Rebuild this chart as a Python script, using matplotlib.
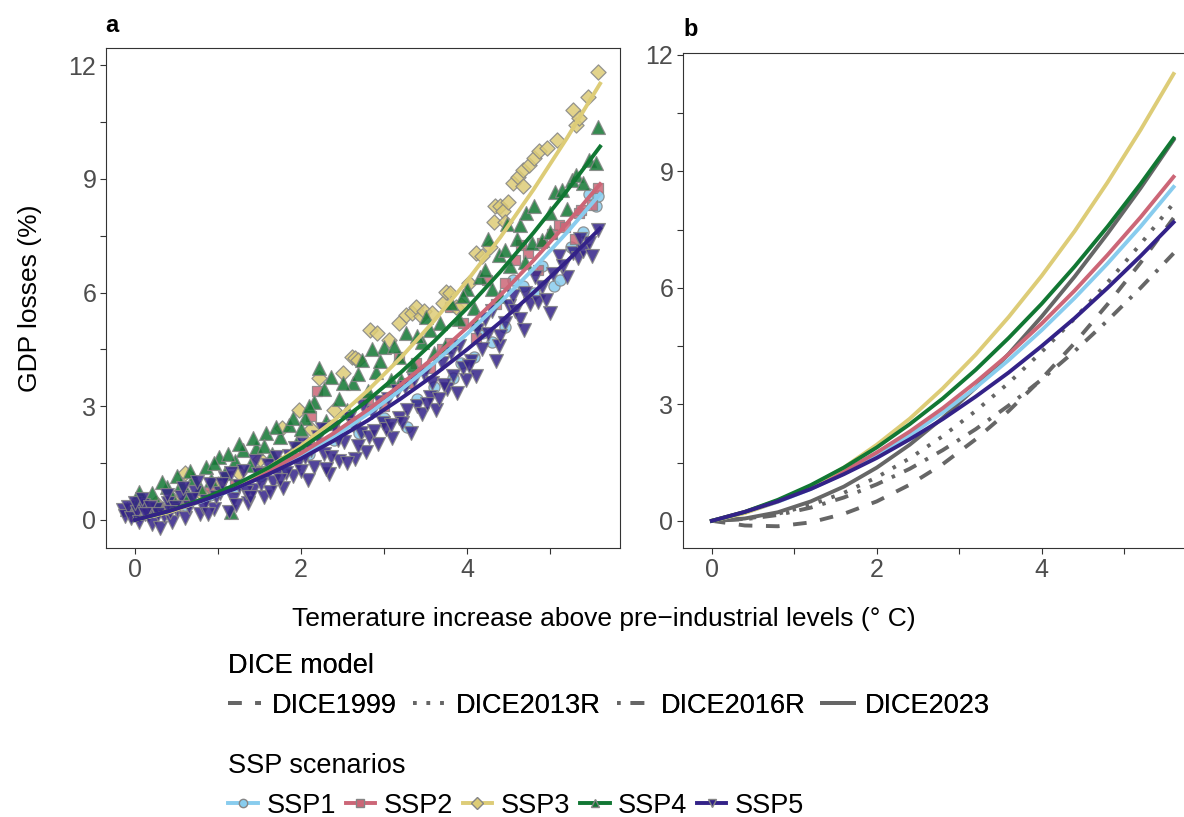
import matplotlib
matplotlib.use("Agg")
import matplotlib.pyplot as plt
from matplotlib.lines import Line2D

plt.rcParams['font.family'] = ['Liberation Sans', 'DejaVu Sans']

# === DATA ===
ssp_names = ['SSP1', 'SSP2', 'SSP3', 'SSP4', 'SSP5']
ssp_colors = ['#88CCEE', '#CC6677', '#DDCC77', '#117733', '#332288']
ssp_markers = ['o', 's', 'D', '^', 'v']
ssp_sizes = [65, 60, 60, 100, 100]

# fitted damage curves (same in both panels), read at these temperatures
temp_grid = [0.0, 0.4, 0.8, 1.2, 1.6, 2.0, 2.4, 2.8, 3.2, 3.6, 4.0, 4.4, 4.8, 5.2, 5.6]
ssp1_fit = [0.0, 0.21, 0.49, 0.82, 1.22, 1.68, 2.20, 2.79, 3.43, 4.14, 4.91, 5.74, 6.63, 7.58, 8.60]
ssp2_fit = [0.0, 0.23, 0.52, 0.87, 1.28, 1.76, 2.30, 2.90, 3.57, 4.29, 5.08, 5.93, 6.85, 7.82, 8.86]
ssp3_fit = [0.0, 0.20, 0.50, 0.89, 1.37, 1.96, 2.63, 3.41, 4.28, 5.25, 6.31, 7.46, 8.72, 10.07, 11.51]
ssp4_fit = [0.0, 0.23, 0.54, 0.92, 1.37, 1.89, 2.49, 3.15, 3.89, 4.71, 5.59, 6.55, 7.58, 8.68, 9.85]
ssp5_fit = [0.0, 0.23, 0.50, 0.82, 1.20, 1.62, 2.10, 2.62, 3.20, 3.82, 4.50, 5.22, 6.00, 6.82, 7.69]
ssp_fits = [ssp1_fit, ssp2_fit, ssp3_fit, ssp4_fit, ssp5_fit]

dice_names = ['DICE1999', 'DICE2013R', 'DICE2016R', 'DICE2023']
dice_styles = [(0, (3.5, 3.5)), (0, (0.9, 2.6)), (0, (0.9, 2.6, 3.5, 2.6)), '-']
dice1999 = [0.0, -0.12, -0.14, -0.04, 0.18, 0.50, 0.93, 1.46, 2.10, 2.83, 3.66, 4.58, 5.58, 6.65, 7.80]
dice2013r = [0.0, 0.05, 0.18, 0.41, 0.72, 1.12, 1.61, 2.18, 2.83, 3.55, 4.35, 5.21, 6.14, 7.13, 8.18]
dice2016r = [0.0, 0.04, 0.15, 0.34, 0.60, 0.94, 1.34, 1.82, 2.36, 2.97, 3.64, 4.37, 5.16, 6.00, 6.89]
dice2023 = [0.0, 0.06, 0.22, 0.50, 0.88, 1.37, 1.96, 2.65, 3.43, 4.30, 5.26, 6.29, 7.40, 8.57, 9.81]
dice_fits = [dice1999, dice2013r, dice2016r, dice2023]

# scatter points, panel a
ssp1_t = [0.00, 0.30, 0.60, 0.90, 1.20, 1.50, 1.80, 2.10, 2.40, 2.70, 3.00, 3.28, 3.40, 3.60, 3.83, 3.92,
          4.08, 4.18, 4.30, 4.45, 4.55, 4.67, 4.80, 4.90, 5.04, 5.12, 5.25, 5.40, 5.47, 5.55, 5.57]
ssp1_v = [0.15, 0.25, 0.40, 0.65, 0.85, 1.15, 1.40, 1.75, 2.10, 2.30, 2.70, 2.46, 3.20, 3.50, 3.74, 4.13,
          4.31, 4.93, 4.70, 5.10, 6.33, 6.16, 6.00, 6.70, 6.16, 6.33, 7.20, 7.60, 8.60, 8.27, 8.55]

ssp2_t = [0.00, 0.30, 0.60, 0.90, 1.20, 1.50, 1.80, 2.10, 2.19, 2.12, 2.40, 2.65, 2.80, 3.00, 3.18, 3.30,
          3.38, 3.55, 3.70, 3.79, 3.79, 3.95, 4.10, 4.24, 4.35, 4.45, 4.57, 4.65, 4.73, 4.85, 4.90, 5.02,
          5.10, 5.18, 5.30, 5.35, 5.37, 5.50, 5.57]
ssp2_v = [0.10, 0.30, 0.45, 0.75, 0.95, 1.30, 1.55, 2.00, 3.39, 2.73, 2.50, 2.60, 3.20, 3.00, 4.31, 3.60,
          4.13, 4.00, 4.50, 5.63, 4.66, 5.20, 4.80, 6.33, 5.70, 6.25, 6.86, 7.26, 7.04, 6.60, 7.30, 7.55,
          7.78, 7.74, 7.40, 8.09, 8.18, 8.30, 8.75]

ssp3_t = [0.00, 0.25, 0.45, 0.60, 0.80, 1.00, 1.25, 1.50, 1.77, 1.97, 2.12, 2.22, 2.40, 2.50, 2.61, 2.65,
          2.69, 2.83, 2.91, 3.06, 3.18, 3.26, 3.34, 3.38, 3.44, 3.48, 3.57, 3.71, 3.75, 3.79, 3.87, 3.93,
          4.02, 4.10, 4.18, 4.28, 4.32, 4.34, 4.40, 4.43, 4.45, 4.49, 4.55, 4.61, 4.67, 4.67, 4.75, 4.81,
          4.87, 4.96, 5.08, 5.28, 5.31, 5.35, 5.45, 5.57]
ssp3_v = [0.30, 0.45, 0.55, 1.23, 0.70, 0.95, 1.25, 1.60, 2.42, 2.90, 2.40, 3.74, 2.90, 3.87, 4.31, 4.27,
          4.22, 5.01, 4.93, 4.75, 5.19, 5.41, 5.45, 5.63, 5.37, 5.50, 5.45, 5.72, 6.02, 5.98, 5.63, 5.67,
          6.24, 7.04, 6.95, 7.21, 7.87, 8.27, 8.27, 8.14, 7.87, 8.40, 8.88, 9.06, 9.23, 8.80, 9.37, 9.54,
          9.72, 9.81, 10.03, 10.82, 10.42, 10.60, 11.17, 11.83]

ssp4_t = [-0.10, 0.00, 0.10, 0.20, 0.28, 0.38, 0.45, 0.55, 0.62, 0.70, 0.78, 0.85, 0.92, 1.01, 1.08, 1.15,
          1.20, 1.30, 1.38, 1.46, 1.58, 1.65, 1.75, 1.85, 1.95, 2.05, 2.15, 2.22, 2.30, 2.36, 2.45, 2.55,
          2.62, 2.73, 2.80, 2.90, 3.00, 3.08, 3.18, 3.20, 3.26, 3.35, 3.45, 3.55, 3.60, 3.67, 3.73, 3.81,
          3.90, 4.00, 4.08, 4.10, 4.15, 4.22, 4.30, 4.38, 4.40, 4.45, 4.52, 4.60, 4.63, 4.70, 4.71, 4.78,
          4.81, 4.90, 5.00, 5.00, 5.06, 5.14, 5.20, 5.26, 5.31, 5.40, 5.47, 5.55, 5.57,
          0.05, 0.32, 0.50, 0.66, 0.95, 1.12, 1.25, 1.42, 1.55, 1.70, 1.90, 2.00, 2.10, 2.28, 2.50, 2.68,
          2.85, 2.95, 3.12, 3.40, 3.50, 3.95, 4.25, 4.48]
ssp4_v = [0.30, 0.45, 0.55, 0.70, 0.40, 0.88, 0.60, 0.95, 0.70, 1.10, 0.85, 1.40, 1.05, 1.67, 1.25, 0.22,
          1.55, 1.85, 1.45, 1.90, 2.29, 1.75, 2.20, 2.50, 2.05, 2.70, 3.10, 4.00, 2.60, 3.78, 3.20, 2.90,
          3.60, 4.22, 3.40, 3.90, 4.55, 3.70, 4.30, 3.70, 4.93, 4.10, 4.70, 5.00, 4.40, 5.19, 4.60, 5.72,
          5.30, 6.10, 5.60, 5.20, 6.40, 6.60, 6.10, 7.00, 5.90, 7.12, 6.70, 7.40, 7.78, 6.80, 8.09, 7.30,
          8.27, 7.39, 8.10, 7.60, 8.66, 8.71, 8.20, 8.97, 9.10, 8.90, 9.50, 9.41, 10.36,
          0.75, 1.00, 1.15, 1.30, 1.50, 1.75, 2.00, 2.15, 1.95, 2.45, 2.70, 2.40, 3.00, 3.45, 3.60, 3.85,
          4.50, 4.20, 4.60, 4.85, 5.35, 5.90, 7.40, 7.80]

ssp5_t = [-0.15, -0.12, -0.08, -0.05, 0.02, 0.05, 0.10, 0.15, 0.20, 0.25, 0.30, 0.35, 0.40, 0.45, 0.50, 0.55,
          0.60, 0.65, 0.72, 0.78, 0.85, 0.90, 0.95, 1.02, 1.08, 1.13, 1.18, 1.25, 1.30, 1.36, 1.42, 1.48,
          1.55, 1.60, 1.66, 1.72, 1.78, 1.85, 1.90, 1.96, 2.02, 2.08, 2.15, 2.20, 2.28, 2.33, 2.40, 2.46,
          2.52, 2.58, 2.65, 2.72, 2.78, 2.85, 2.92, 2.98, 3.05, 3.10, 3.18, 3.25, 3.32, 3.40, 3.48, 3.55,
          3.62, 3.70, 3.76, 3.83, 3.90, 3.98, 4.05, 4.12, 4.18, 4.25, 4.30, 4.38, 4.45, 4.50, 4.58, 4.63,
          4.70, 4.76, 4.85, 4.90, 5.00, 5.03, 5.10, 5.20, 5.28, 5.33, 5.40, 5.47, 5.57,
          0.00, 0.08, 0.18, 0.28, 0.38, 0.48, 0.58, 0.68, 0.75, 0.82, 0.98, 1.05, 1.15, 1.22, 1.33, 1.45,
          1.52, 1.62, 1.70, 1.82, 1.93, 2.00, 2.12, 2.25, 2.36, 2.44, 2.55, 2.62, 2.75, 2.82, 2.95, 3.02,
          3.15, 3.22, 3.36, 3.45, 3.58, 3.66, 3.80, 3.95, 4.10, 4.22, 4.35, 4.55, 4.68, 4.82, 4.95, 5.15,
          5.36, 5.50,
          0.12, 0.42, 0.88, 1.38, 1.75, 2.05, 2.30, 2.68, 2.88, 3.08, 3.28, 3.52, 3.72, 3.88, 4.02, 4.40]
ssp5_v = [0.25, 0.10, 0.35, 0.05, 0.20, -0.05, 0.40, 0.12, -0.10, 0.30, -0.20, 0.10, 0.45, -0.05, 0.25, 0.60,
          0.05, 0.35, 0.75, 0.15, 0.50, 0.95, 0.30, 0.70, 1.10, 0.20, 0.55, 0.90, 1.30, 0.45, 0.80, 1.20,
          0.60, 1.45, 1.00, 1.30, 0.85, 1.70, 1.15, 1.50, 2.00, 1.05, 1.40, 2.20, 1.75, 1.20, 2.45, 1.55,
          2.05, 2.70, 1.60, 2.30, 1.80, 2.85, 2.00, 2.55, 3.20, 2.15, 2.70, 3.50, 2.30, 3.00, 3.85, 3.25,
          2.90, 4.15, 3.45, 3.80, 4.60, 3.70, 4.20, 5.00, 4.50, 4.90, 5.50, 4.60, 5.20, 5.65, 5.50, 5.30,
          6.00, 5.70, 5.75, 6.15, 5.45, 6.50, 6.95, 6.40, 7.05, 6.90, 7.10, 7.30, 7.65,
          0.45, 0.55, 0.35, 0.15, 0.65, 0.35, 0.85, 0.55, 1.00, 0.35, 0.60, 0.95, 1.25, 0.40, 0.75, 1.55,
          0.95, 0.75, 1.65, 1.25, 1.90, 1.30, 1.85, 2.40, 1.65, 2.10, 1.50, 2.50, 3.00, 2.20, 3.10, 2.40,
          3.40, 2.55, 3.70, 2.80, 3.60, 3.20, 4.40, 4.00, 3.80, 5.30, 4.20, 5.90, 5.00, 6.40, 5.80, 6.70,
          7.40, 6.95,
          0.15, 0.20, 0.15, 0.60, 1.05, 1.65, 1.35, 1.95, 2.35, 2.50, 2.90, 3.05, 3.55, 3.35, 4.05, 4.85]

ssp_t = [ssp1_t, ssp2_t, ssp3_t, ssp4_t, ssp5_t]
ssp_v = [ssp1_v, ssp2_v, ssp3_v, ssp4_v, ssp5_v]

# === FIGURE ===
W, H = 1184, 817
fig = plt.figure(figsize=(W / 100, H / 100), dpi=100)
ax_a = fig.add_axes([106 / W, 1 - 548 / H, (620 - 106) / W, (548 - 48) / H])
ax_b = fig.add_axes([683 / W, 1 - 548 / H, 512 / W, (548 - 53) / H])

tick_col = '#4D4D4D'
for ax in (ax_a, ax_b):
    for sp in ax.spines.values():
        sp.set_color('#333333')
        sp.set_linewidth(0.8)
    ax.set_xticks([0, 2, 4])
    ax.set_xticks([1, 3, 5], minor=True)
    ax.set_yticks([0, 3, 6, 9, 12])
    ax.set_yticks([1.5, 4.5, 7.5, 10.5], minor=True)
    ax.tick_params(which='both', direction='out', length=4, width=0.8, color='#333333',
                   labelsize=18, labelcolor=tick_col, pad=3)

# panel a: points then fitted lines
for i in range(5):
    ax_a.scatter(ssp_t[i], ssp_v[i], marker=ssp_markers[i], s=ssp_sizes[i], c=ssp_colors[i],
                 edgecolors='#858585', linewidths=0.9, alpha=0.85, zorder=2)
for i in range(5):
    ax_a.plot(temp_grid, ssp_fits[i], color=ssp_colors[i], lw=2.8, zorder=3)
ax_a.set_xlim(-0.35, 5.84)
ax_a.set_ylim(-0.74, 12.45)

# panel b: DICE curves then SSP curves
for i in range(4):
    ax_b.plot(temp_grid, dice_fits[i], color='#666666', lw=2.8, linestyle=dice_styles[i], zorder=2)
for i in range(5):
    ax_b.plot(temp_grid, ssp_fits[i], color=ssp_colors[i], lw=2.8, zorder=3)
ax_b.set_xlim(-0.35, 5.86)
ax_b.set_ylim(-0.70, 12.05)

fig.text(105 / W, 1 - 25 / H, 'a', fontsize=17, fontweight='bold', va='center', ha='left')
fig.text(683 / W, 1 - 29 / H, 'b', fontsize=17, fontweight='bold', va='center', ha='left')
fig.text(30 / W, 1 - 298 / H, 'GDP losses (%)', fontsize=19, rotation=90, va='center', ha='center')
fig.text(604 / W, 1 - 619 / H, 'Temerature increase above pre−industrial levels (° C)',
         fontsize=19, va='center', ha='center')

# legends
dice_handles = [Line2D([], [], color='#666666', lw=2.8, linestyle=dice_styles[i]) for i in range(4)]
leg1 = fig.legend(dice_handles, dice_names, title='DICE model', ncol=4, loc='upper left',
                  bbox_to_anchor=(204 / W, 1 - 629 / H), frameon=False, fontsize=19.5,
                  title_fontsize=19.5, alignment='left', handlelength=1.2, handletextpad=0.4,
                  columnspacing=0.6)

ssp_handles = [Line2D([], [], color=ssp_colors[i], lw=2.8, marker=ssp_markers[i], markersize=6,
                      markeredgecolor='#858585', markerfacecolor=ssp_colors[i]) for i in range(5)]
leg2 = fig.legend(ssp_handles, ssp_names, title='SSP scenarios', ncol=5, loc='upper left',
                  bbox_to_anchor=(204 / W, 1 - 729 / H), frameon=False, fontsize=19.5,
                  title_fontsize=19.5, alignment='left', handlelength=1.1, handletextpad=0.3,
                  columnspacing=0.36)
fig.add_artist(leg1)

fig.savefig('out.png', dpi=100)
